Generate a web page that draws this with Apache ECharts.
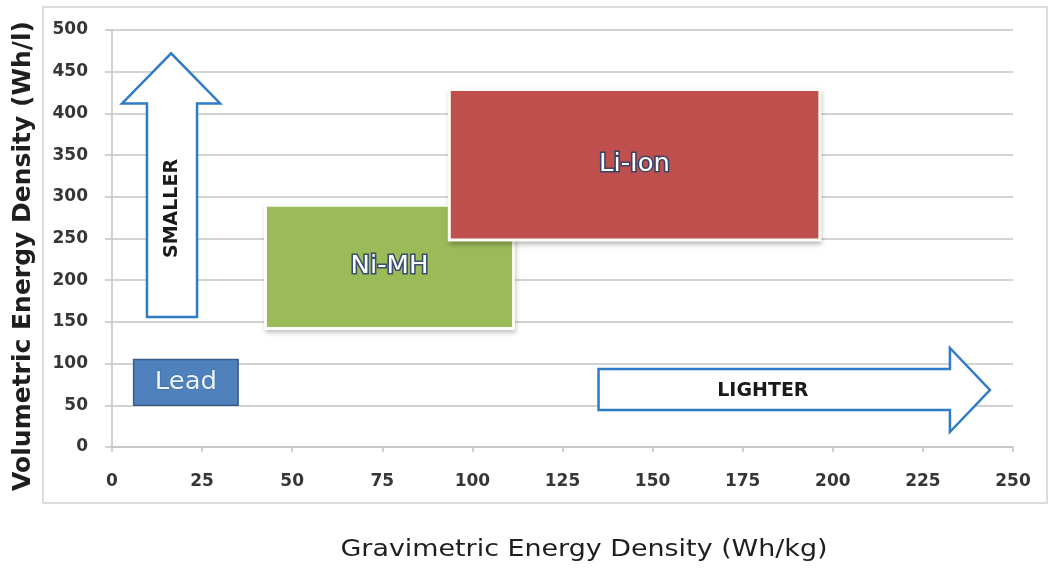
<!DOCTYPE html>
<html>
<head>
<meta charset="utf-8">
<script src="https://cdn.jsdelivr.net/npm/echarts@6/dist/echarts.min.js"></script>
<style>
  html, body { margin: 0; padding: 0; background: #ffffff; }
  #chart { width: 1050px; height: 570px; }
</style>
</head>
<body>
<div id="chart"></div>
<script>
// Axis ticks
const xTicks = [0, 25, 50, 75, 100, 125, 150, 175, 200, 225, 250];
const yTicks = [0, 50, 100, 150, 200, 250, 300, 350, 400, 450, 500];

// Battery chemistries: ranges of gravimetric (Wh/kg) and volumetric (Wh/l) energy density
const categories = ['Lead', 'Ni-MH', 'Li-Ion'];
const gravimetricLow = [6, 43, 94];
const gravimetricHigh = [35, 111, 196];
const volumetricLow = [50, 144, 250];
const volumetricHigh = [105, 288, 427];

// Block arrows, outlined in data units
const upArrow = {
  label: 'SMALLER',
  shaft: [9.7, 23.6], base: 156, headBase: 412, head: [2.8, 30], tip: 472,
  labelAt: [16.6, 286]
};
const rightArrow = {
  label: 'LIGHTER',
  shaft: [44.4, 93.5], base: 135, headBase: 232.5, head: [18, 118.7], tip: 243.6,
  labelAt: [180.6, 67]
};

const boxLook = [
  { fill: '#4f81bd', stroke: '#385d8a', lineWidth: 1.5, frame: 0, text: '#eef4fc', textStroke: 'rgba(40,70,120,0.45)', textStrokeWidth: 1 },
  { fill: '#9bbb59', stroke: null, lineWidth: 0, frame: 3, text: '#ffffff', textStroke: '#3a4f70', textStrokeWidth: 3 },
  { fill: '#c0504d', stroke: null, lineWidth: 0, frame: 3, text: '#ffffff', textStroke: '#3a4466', textStrokeWidth: 3 }
];

const boxData = categories.map((c, i) => [gravimetricLow[i], gravimetricHigh[i], volumetricLow[i], volumetricHigh[i]]);

function renderBox(params, api) {
  const i = params.dataIndex;
  const look = boxLook[i];
  const tl = api.coord([api.value(0), api.value(3)]);
  const br = api.coord([api.value(1), api.value(2)]);
  const x = tl[0], y = tl[1], w = br[0] - tl[0], h = br[1] - tl[1];
  const children = [];
  if (look.frame > 0) {
    children.push({
      type: 'rect',
      shape: { x: x - look.frame, y: y - look.frame, width: w + 2 * look.frame, height: h + 2 * look.frame },
      style: { fill: '#fbfdf6', shadowBlur: 5, shadowOffsetX: 1, shadowOffsetY: 3, shadowColor: 'rgba(0,0,0,0.28)' }
    });
  }
  children.push({
    type: 'rect',
    shape: { x: x, y: y, width: w, height: h },
    style: { fill: look.fill, stroke: look.stroke, lineWidth: look.lineWidth }
  });
  children.push({
    type: 'text',
    x: x + w / 2,
    y: y + h / 2,
    scaleX: 1.08,
    style: {
      text: categories[i],
      fill: look.text,
      stroke: look.textStroke,
      lineWidth: look.textStrokeWidth,
      font: '24px "DejaVu Sans"',
      align: 'center',
      verticalAlign: 'middle'
    }
  });
  return { type: 'group', children: children };
}

function arrowPoints(a, vertical) {
  // [along-axis, cross-axis] pairs turned into data points
  const pts = [
    [a.base, a.shaft[0]], [a.headBase, a.shaft[0]], [a.headBase, a.head[0]],
    [a.tip, (a.head[0] + a.head[1]) / 2],
    [a.headBase, a.head[1]], [a.headBase, a.shaft[1]], [a.base, a.shaft[1]]
  ];
  return pts.map(p => vertical ? [p[1], p[0]] : [p[0], p[1]]);
}

const arrows = [
  { def: upArrow, vertical: true },
  { def: rightArrow, vertical: false }
];

function renderArrow(params, api) {
  const a = arrows[params.dataIndex];
  const pts = arrowPoints(a.def, a.vertical).map(p => api.coord(p));
  const lp = api.coord(a.def.labelAt);
  return {
    type: 'group',
    children: [
      {
        type: 'polygon',
        shape: { points: pts },
        style: { fill: '#ffffff', stroke: '#2f7bc6', lineWidth: 2.5, lineJoin: 'miter' }
      },
      {
        type: 'text',
        x: lp[0], y: lp[1],
        rotation: a.vertical ? Math.PI / 2 : 0,
        style: {
          text: a.def.label,
          fill: '#1a1a1a',
          font: 'bold 19px "DejaVu Sans"',
          align: 'center',
          verticalAlign: 'middle'
        }
      }
    ]
  };
}

const chart = echarts.init(document.getElementById('chart'), null, { renderer: 'canvas' });

const axisText = { color: '#363636', fontFamily: 'DejaVu Sans', fontWeight: 'bold', fontSize: 17 };
const gridColor = '#c4c4c4';

chart.setOption({
  animation: false,
  backgroundColor: '#ffffff',
  grid: { left: 112, right: 37, top: 30, bottom: 123, containLabel: false },
  xAxis: {
    type: 'value',
    min: xTicks[0],
    max: xTicks[xTicks.length - 1],
    interval: xTicks[1] - xTicks[0],
    axisLine: { show: true, lineStyle: { color: gridColor, width: 1.5 } },
    axisTick: { show: true, length: 5, lineStyle: { color: gridColor, width: 1.5 } },
    splitLine: { show: false },
    axisLabel: Object.assign({ margin: 26 }, axisText)
  },
  yAxis: {
    type: 'value',
    min: yTicks[0],
    max: yTicks[yTicks.length - 1],
    interval: yTicks[1] - yTicks[0],
    axisLine: { show: true, lineStyle: { color: gridColor, width: 1.5 } },
    axisTick: { show: true, length: 7, lineStyle: { color: gridColor, width: 1.5 } },
    splitLine: { show: true, lineStyle: { color: gridColor, width: 1.6 } },
    axisLabel: Object.assign({ margin: 24 }, axisText)
  },
  graphic: [
    {
      type: 'rect',
      silent: true,
      shape: { x: 43, y: 7, width: 1004, height: 496 },
      style: { fill: 'none', stroke: '#d2d2d2', lineWidth: 1.5 }
    },
    {
      type: 'text',
      x: 584, y: 550,
      scaleX: 1.17,
      style: {
        text: 'Gravimetric Energy Density (Wh/kg)',
        font: '23px "DejaVu Sans"',
        fill: '#1e1e1e',
        align: 'center',
        verticalAlign: 'middle'
      }
    },
    {
      type: 'text',
      x: 23, y: 256,
      rotation: Math.PI / 2,
      style: {
        text: 'Volumetric Energy Density (Wh/l)',
        font: 'bold 25px "DejaVu Sans"',
        fill: '#1e1e1e',
        align: 'center',
        verticalAlign: 'middle'
      }
    }
  ],
  series: [
    {
      type: 'custom',
      name: 'arrows',
      renderItem: renderArrow,
      data: arrows.map((a, i) => [i]),
      z: 3
    },
    {
      type: 'custom',
      name: 'chemistries',
      renderItem: renderBox,
      encode: { x: [0, 1], y: [2, 3] },
      data: boxData,
      z: 4
    }
  ]
});
</script>
</body>
</html>
